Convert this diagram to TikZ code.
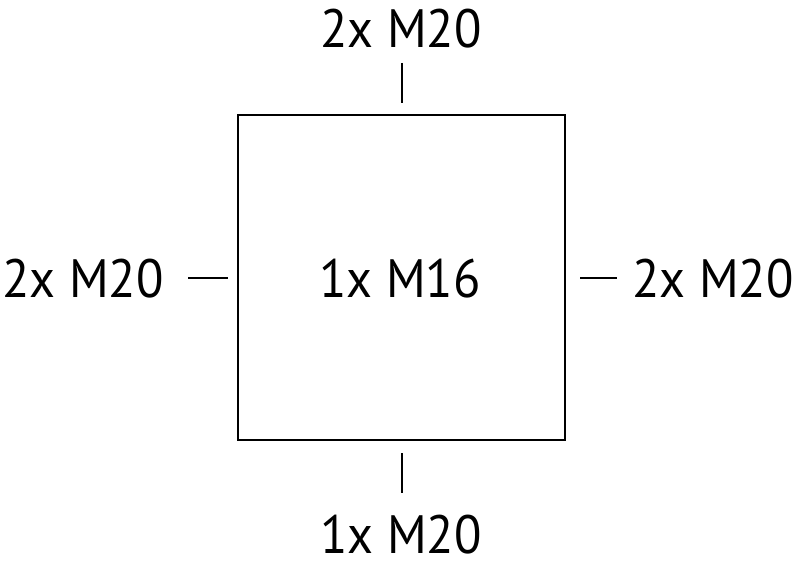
\documentclass[tikz,border=0pt]{standalone}
\usepackage{fontspec}
\setmainfont{PT Sans}[FakeStretch=0.93]
\tikzset{
  lbl/.style={anchor=base, inner sep=0pt, font=\fontsize{54}{60}\selectfont},
  tick/.style={line width=2.8pt},
}
\begin{document}
\begin{tikzpicture}[x=1pt, y=-1pt]
        \useasboundingbox (0,0) rectangle (800,569);
        % box
        \node[draw, line width=2.4pt, minimum width=327pt, minimum height=325pt, inner sep=0pt] (box) at (401.5,277.5) {};
        \node[lbl] (center) at (400,298) {1x M16};
        % cable entries
        \node[lbl] (top) at (401,48) {2x M20};
        \node[lbl] (left) at (83,298) {2x M20};
        \node[lbl] (right) at (713,298) {2x M20};
        \node[lbl] (bottom) at (401,553) {1x M20};
        \coordinate (t1) at (402,63);   \coordinate (t2) at (402,103);
        \coordinate (b1) at (402,453);  \coordinate (b2) at (402,493);
        \coordinate (l1) at (188,278);  \coordinate (l2) at (228,278);
        \coordinate (r1) at (580,278);  \coordinate (r2) at (617,278);
        \draw[tick] (t1) -- (t2);
        \draw[tick] (b1) -- (b2);
        \draw[tick] (l1) -- (l2);
        \draw[tick] (r1) -- (r2);
\end{tikzpicture}
\end{document}
